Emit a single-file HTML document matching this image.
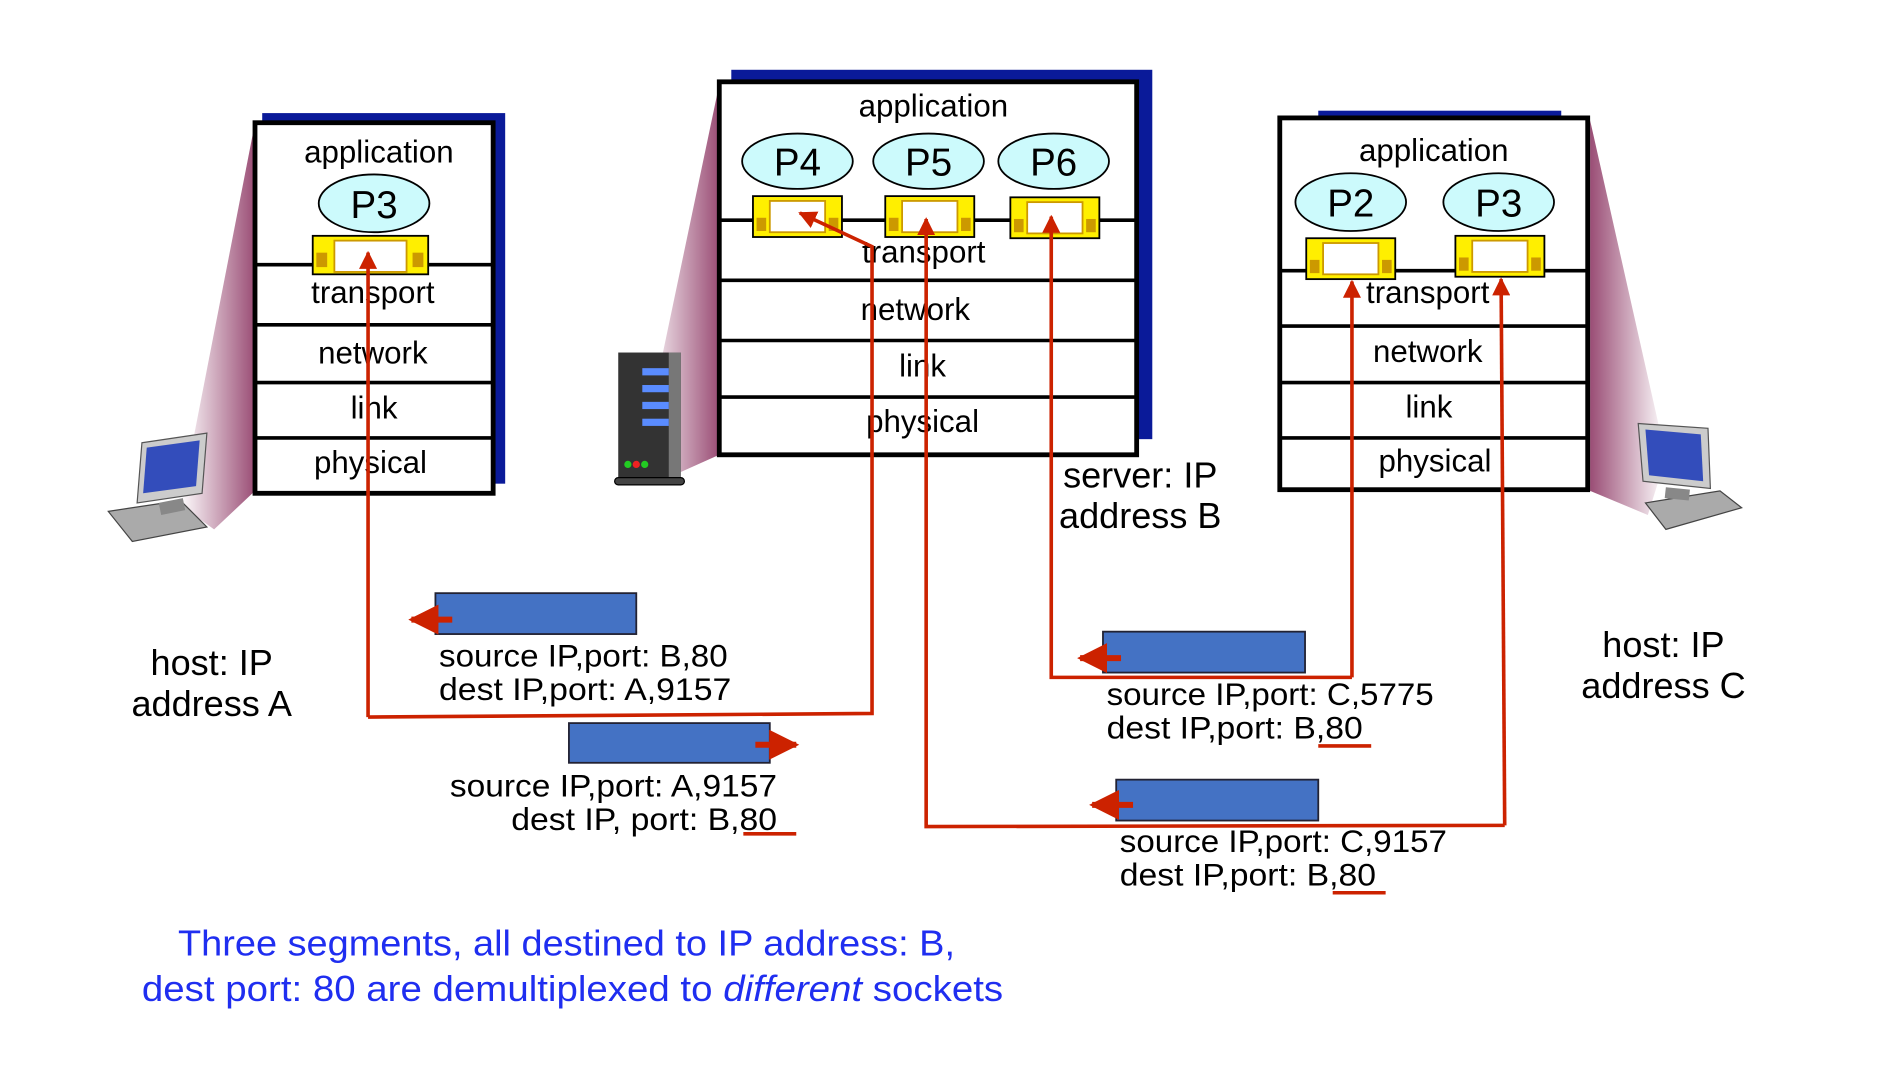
<!DOCTYPE html>
<html><head><meta charset="utf-8"><style>html,body{margin:0;padding:0;background:#fff;}svg{display:block}</style></head>
<body>
<svg width="1886" height="1066" viewBox="0 0 1568 886" preserveAspectRatio="none" xmlns="http://www.w3.org/2000/svg" font-family="Liberation Sans, sans-serif">
<defs>
<linearGradient id="gl" x1="0" x2="1" y1="0" y2="0"><stop offset="0" stop-color="#fff"/><stop offset="1" stop-color="#9a4d75"/></linearGradient>
<linearGradient id="gr" x1="1" x2="0" y1="0" y2="0"><stop offset="0" stop-color="#fff"/><stop offset="1" stop-color="#9a4d75"/></linearGradient>
<marker id="ah" viewBox="0 0 10 10" refX="9" refY="5" markerWidth="5" markerHeight="5" orient="auto"><path d="M0,0L10,5L0,10z" fill="#cc2200"/></marker>
</defs>
<rect width="1568" height="886" fill="#fff"/>
<polygon points="212,102 212,408 178,440 150,420" fill="url(#gl)"/>
<polygon points="598,70 598,378 560,395 535,370" fill="url(#gl)"/>
<polygon points="1322,100 1322,408 1370,428 1385,380" fill="url(#gr)"/>
<rect x="218" y="94" width="202" height="308" fill="#0a1a99"/>
<rect x="212" y="102" width="198" height="308" fill="#fff" stroke="#000" stroke-width="4"/>
<g stroke="#000" stroke-width="3"><line x1="212" y1="220" x2="410" y2="220"/><line x1="212" y1="270" x2="410" y2="270"/><line x1="212" y1="318" x2="410" y2="318"/><line x1="212" y1="364" x2="410" y2="364"/></g>
<g font-size="26" text-anchor="middle" fill="#000">
<text x="315" y="135">application</text><text x="310" y="252">transport</text><text x="310" y="302">network</text><text x="311" y="348">link</text><text x="308" y="393">physical</text>
</g>
<ellipse cx="311" cy="169" rx="46" ry="24" fill="#ccfafc" stroke="#000" stroke-width="1.5"/>
<text x="311" y="181" font-size="32" text-anchor="middle">P3</text>
<rect x="260" y="196" width="96" height="32" fill="#ffef00" stroke="#000" stroke-width="1.5"/><rect x="278" y="200" width="60" height="26" fill="#fff" stroke="#c90" stroke-width="1.5"/><rect x="263" y="210" width="9" height="12" fill="#c90"/><rect x="343" y="210" width="9" height="12" fill="#c90"/>
<rect x="608" y="58" width="350" height="307" fill="#0a1a99"/>
<rect x="598" y="68" width="347" height="310" fill="#fff" stroke="#000" stroke-width="4"/>
<g stroke="#000" stroke-width="3"><line x1="598" y1="183" x2="945" y2="183"/><line x1="598" y1="233" x2="945" y2="233"/><line x1="598" y1="283" x2="945" y2="283"/><line x1="598" y1="330" x2="945" y2="330"/></g>
<g font-size="26" text-anchor="middle" fill="#000">
<text x="776" y="97">application</text><text x="768" y="218">transport</text><text x="761" y="266">network</text><text x="767" y="313">link</text><text x="767" y="359">physical</text>
</g>
<g fill="#ccfafc" stroke="#000" stroke-width="1.5"><ellipse cx="663" cy="134" rx="46" ry="23"/><ellipse cx="772" cy="134" rx="46" ry="23"/><ellipse cx="876" cy="134" rx="46" ry="23"/></g>
<g font-size="32" text-anchor="middle"><text x="663" y="146">P4</text><text x="772" y="146">P5</text><text x="876" y="146">P6</text></g>
<g>
<rect x="626" y="163" width="74" height="34" fill="#ffef00" stroke="#000" stroke-width="1.5"/><rect x="640" y="167" width="46" height="26" fill="#fff" stroke="#c90" stroke-width="1.5"/><rect x="629" y="181" width="8" height="11" fill="#c90"/><rect x="689" y="181" width="8" height="11" fill="#c90"/>
<rect x="736" y="163" width="74" height="34" fill="#ffef00" stroke="#000" stroke-width="1.5"/><rect x="750" y="167" width="46" height="26" fill="#fff" stroke="#c90" stroke-width="1.5"/><rect x="739" y="181" width="8" height="11" fill="#c90"/><rect x="799" y="181" width="8" height="11" fill="#c90"/>
<rect x="840" y="164" width="74" height="34" fill="#ffef00" stroke="#000" stroke-width="1.5"/><rect x="854" y="168" width="46" height="26" fill="#fff" stroke="#c90" stroke-width="1.5"/><rect x="843" y="182" width="8" height="11" fill="#c90"/><rect x="903" y="182" width="8" height="11" fill="#c90"/>
</g>
<text x="948" y="405" font-size="30" text-anchor="middle">server: IP</text>
<text x="948" y="439" font-size="30" text-anchor="middle">address B</text>
<rect x="514" y="293" width="52" height="108" fill="#333"/>
<rect x="556" y="293" width="10" height="108" fill="#777"/>
<g fill="#5a8cff"><rect x="534" y="306" width="22" height="6"/><rect x="534" y="320" width="22" height="6"/><rect x="534" y="334" width="22" height="6"/><rect x="534" y="348" width="22" height="6"/></g>
<circle cx="522" cy="386" r="3" fill="#2c2"/><circle cx="529" cy="386" r="3" fill="#e22"/><circle cx="536" cy="386" r="3" fill="#2c2"/>
<rect x="511" y="397" width="58" height="6" rx="3" fill="#444" stroke="#000"/>
<rect x="1096" y="92" width="202" height="10" fill="#0a1a99"/>
<rect x="1064" y="98" width="256" height="309" fill="#fff" stroke="#000" stroke-width="4"/>
<g stroke="#000" stroke-width="3"><line x1="1064" y1="225" x2="1320" y2="225"/><line x1="1064" y1="271" x2="1320" y2="271"/><line x1="1064" y1="318" x2="1320" y2="318"/><line x1="1064" y1="364" x2="1320" y2="364"/></g>
<g font-size="26" text-anchor="middle" fill="#000">
<text x="1192" y="134">application</text><text x="1187" y="252">transport</text><text x="1187" y="301">network</text><text x="1188" y="347">link</text><text x="1193" y="392">physical</text>
</g>
<g fill="#ccfafc" stroke="#000" stroke-width="1.5"><ellipse cx="1123" cy="168" rx="46" ry="24"/><ellipse cx="1246" cy="168" rx="46" ry="24"/></g>
<g font-size="32" text-anchor="middle"><text x="1123" y="180">P2</text><text x="1246" y="180">P3</text></g>
<rect x="1086" y="198" width="74" height="34" fill="#ffef00" stroke="#000" stroke-width="1.5"/><rect x="1100" y="202" width="46" height="26" fill="#fff" stroke="#c90" stroke-width="1.5"/><rect x="1089" y="216" width="8" height="11" fill="#c90"/><rect x="1149" y="216" width="8" height="11" fill="#c90"/>
<rect x="1210" y="196" width="74" height="34" fill="#ffef00" stroke="#000" stroke-width="1.5"/><rect x="1224" y="200" width="46" height="26" fill="#fff" stroke="#c90" stroke-width="1.5"/><rect x="1213" y="214" width="8" height="11" fill="#c90"/><rect x="1273" y="214" width="8" height="11" fill="#c90"/>
<g>
<polygon points="118,368 172,360 168,410 114,418" fill="#ccc" stroke="#555"/>
<polygon points="122,372 166,366 163,404 119,410" fill="#334dbb"/>
<polygon points="90,425 150,416 172,438 110,450" fill="#aaa" stroke="#444"/>
<polygon points="132,418 152,414 154,424 134,428" fill="#888"/>
</g>
<g>
<polygon points="1362,352 1420,356 1422,406 1366,400" fill="#ccc" stroke="#555"/>
<polygon points="1368,357 1414,361 1416,400 1371,395" fill="#334dbb"/>
<polygon points="1368,418 1430,408 1448,422 1385,440" fill="#aaa" stroke="#444"/>
<polygon points="1385,405 1405,407 1404,416 1384,414" fill="#888"/>
</g>
<g fill="none" stroke="#cc2200" stroke-width="3">
<polyline points="306,596 306,210" marker-end="url(#ah)"/>
<polyline points="306,596 725,593 725,205 665,177" marker-end="url(#ah)"/>
<polyline points="1124,563 1124,234" marker-end="url(#ah)"/>
<polyline points="1124,563 874,563 874,180" marker-end="url(#ah)"/>
<polyline points="1251,686 1248,232" marker-end="url(#ah)"/>
<polyline points="1251,686 770,687 770,182" marker-end="url(#ah)"/>
</g>
<g fill="#4472c4" stroke="#223" stroke-width="1.5">
<rect x="362" y="493" width="167" height="34"/><rect x="473" y="601" width="167" height="33"/><rect x="917" y="525" width="168" height="34"/><rect x="928" y="648" width="168" height="34"/>
</g>
<g stroke="#cc2200" stroke-width="5" fill="none">
<line x1="376" y1="515" x2="342" y2="515" marker-end="url(#ah)"/>
<line x1="628" y1="619" x2="662" y2="619" marker-end="url(#ah)"/>
<line x1="932" y1="547" x2="898" y2="547" marker-end="url(#ah)"/>
<line x1="942" y1="669" x2="908" y2="669" marker-end="url(#ah)"/>
</g>
<g font-size="26" fill="#000">
<text x="365" y="554" textLength="240" lengthAdjust="spacingAndGlyphs">source IP,port: B,80</text>
<text x="365" y="582" textLength="243" lengthAdjust="spacingAndGlyphs">dest IP,port: A,9157</text>
<text x="374" y="662" textLength="272" lengthAdjust="spacingAndGlyphs">source IP,port: A,9157</text>
<text x="425" y="690" textLength="221" lengthAdjust="spacingAndGlyphs">dest IP, port: B,80</text>
<text x="920" y="586" textLength="272" lengthAdjust="spacingAndGlyphs">source IP,port: C,5775</text>
<text x="920" y="614" textLength="213" lengthAdjust="spacingAndGlyphs">dest IP,port: B,80</text>
<text x="931" y="708" textLength="272" lengthAdjust="spacingAndGlyphs">source IP,port: C,9157</text>
<text x="931" y="736" textLength="213" lengthAdjust="spacingAndGlyphs">dest IP,port: B,80</text>
</g>
<g stroke="#cc2200" stroke-width="3"><line x1="618" y1="693" x2="662" y2="693"/><line x1="1096" y1="620" x2="1140" y2="620"/><line x1="1108" y1="742" x2="1152" y2="742"/></g>
<g font-size="30" text-anchor="middle">
<text x="176" y="561">host: IP</text><text x="176" y="595">address A</text>
<text x="1383" y="546">host: IP</text><text x="1383" y="580">address C</text>
</g>
<g font-size="30" fill="#1f2ef0">
<text x="148" y="794" textLength="646" lengthAdjust="spacingAndGlyphs">Three segments, all destined to IP address: B,</text>
<text x="118" y="832" textLength="716" lengthAdjust="spacingAndGlyphs">dest port: 80 are demultiplexed to <tspan font-style="italic">different</tspan> sockets</text>
</g>
</svg>
</body></html>
